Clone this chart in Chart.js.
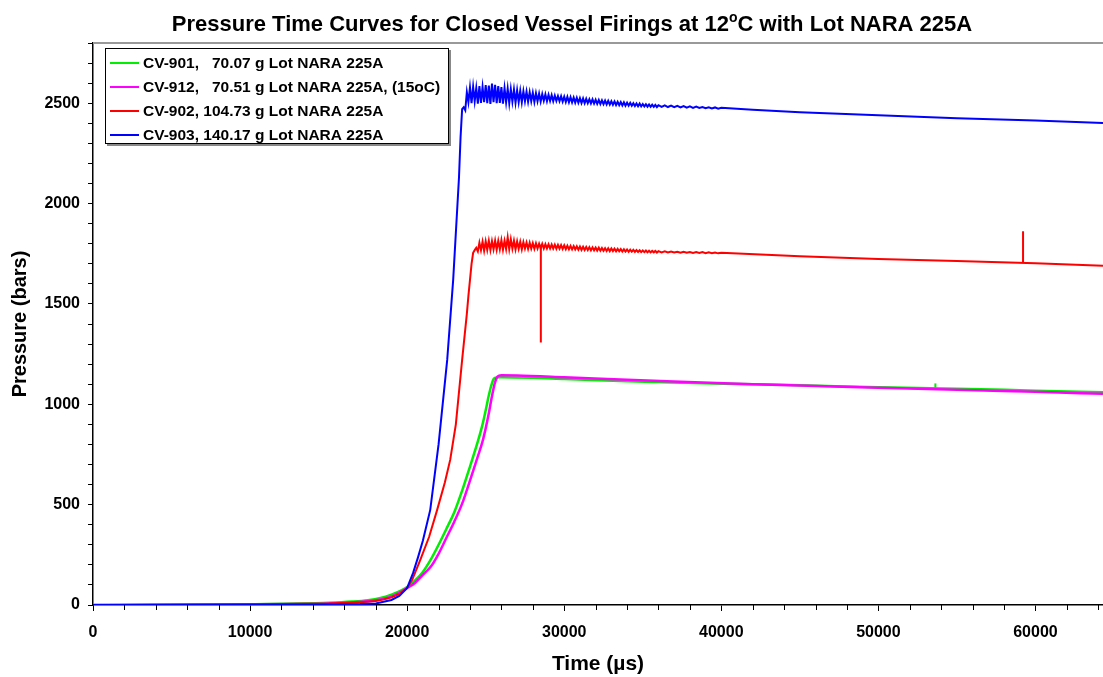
<!DOCTYPE html>
<html>
<head>
<meta charset="utf-8">
<script src="https://cdn.jsdelivr.net/npm/chart.js@4.4.1/dist/chart.umd.min.js"></script>
<style>
html, body { margin: 0; padding: 0; background: #fff; }
#wrap { width: 1103px; height: 677px; }
</style>
</head>
<body>
<div id="wrap"><canvas id="pressureChart" width="1103" height="677"></canvas></div>
<script>
// series names, as in the legend
var seriesNames = [
  'CV-901,   70.07 g Lot NARA 225A',
  'CV-912,   70.51 g Lot NARA 225A, (15oC)',
  'CV-902, 104.73 g Lot NARA 225A',
  'CV-903, 140.17 g Lot NARA 225A'
];

// CV-901 (green)
var greenT = [0, 5000, 10000, 13000, 15000, 16500, 17500, 18300, 19000, 19500, 20000, 20500, 21000, 21500, 22000, 22500, 23000, 23500, 24000, 24500, 24800, 25000, 25200, 25400, 25500, 25600, 25800, 26000, 28000, 30000, 34000, 37400, 42000, 45000, 50000, 55000, 60000, 64300];
var greenP = [0, 1, 4, 7, 11, 17, 24, 35, 52, 68, 90, 122, 165, 226, 300, 380, 462, 570, 690, 815, 900, 970, 1045, 1105, 1125, 1132, 1135, 1135, 1132, 1126, 1115, 1107, 1100, 1095, 1085, 1078, 1068, 1060];

// CV-912 (magenta)
var magentaT = [0, 5000, 10000, 13000, 15000, 16500, 17500, 18300, 19000, 19500, 20000, 20500, 21000, 21500, 22000, 22500, 23000, 23500, 24000, 24500, 24800, 25000, 25200, 25400, 25600, 25750, 26000, 27000, 30000, 34000, 37400, 42000, 45000, 50000, 55000, 60000, 64300];
var magentaP = [0, 1, 3, 5, 8, 13, 19, 27, 42, 60, 85, 110, 150, 190, 255, 335, 415, 505, 620, 740, 815, 880, 955, 1040, 1110, 1138, 1145, 1144, 1135, 1122, 1112, 1100, 1093, 1083, 1072, 1062, 1052];

// sample times of the ringing part, shared by CV-902 and CV-903
var ringT = [23800, 23900, 24000, 24100, 24200, 24300, 24400, 24500, 24600, 24700, 24800, 24900, 25000, 25100, 25200, 25300, 25400, 25500, 25600, 25700, 25800,
  25900, 26000, 26100, 26200, 26300, 26400, 26500, 26600, 26700, 26800, 26900, 27000, 27100, 27200, 27300, 27400, 27500, 27600, 27700, 27800, 27900, 28000,
  28100, 28200, 28300, 28400, 28500, 28600, 28700, 28800, 28900, 29000, 29100, 29200, 29300, 29400, 29500, 29600, 29700, 29800, 29900, 30000,
  30100, 30200, 30300, 30400, 30500, 30600, 30700, 30800, 30900, 31000, 31100, 31200, 31300, 31400, 31500, 31600, 31700, 31800, 31900, 32000,
  32100, 32200, 32300, 32400, 32500, 32600, 32700, 32800, 32900, 33000, 33100, 33200, 33300, 33400, 33500, 33600, 33700, 33800, 33900, 34000,
  34100, 34200, 34300, 34400, 34500, 34600, 34700, 34800, 34900, 35000, 35100, 35200, 35300, 35400, 35500, 35600, 35700, 35800, 35900, 36000,
  36200, 36400, 36600, 36800, 37000, 37200, 37400, 37600, 37800, 38000, 38200, 38400, 38600, 38800, 39000, 39200, 39400, 39600, 39800, 40000];

// CV-902 (red)
var redRiseT = [0, 8000, 12000, 15000, 17000, 18000, 18500, 19000, 19500, 20000, 20320, 20830, 21400, 21910, 22400, 22740, 23100, 23500];
var redRiseP = [0, 2, 5, 8, 14, 20, 28, 38, 55, 85, 125, 224, 340, 474, 610, 723, 900, 1221];
var redRing = [1450, 1540, 1620, 1700, 1755, 1768, 1780, 1762, 1805, 1768, 1810, 1765, 1812, 1770, 1815, 1768, 1813, 1772, 1816, 1770, 1814,
  1772, 1818, 1770, 1815, 1774, 1832, 1773, 1822, 1775, 1815, 1772, 1812, 1775, 1810, 1772, 1808, 1776, 1806, 1774, 1805, 1776, 1803,
  1775, 1802, 1776, 1800, 1777, 1799, 1776, 1798, 1777, 1797, 1776, 1796, 1776, 1795, 1775, 1794, 1775, 1793, 1774, 1792,
  1773, 1790, 1772, 1789, 1772, 1788, 1771, 1787, 1770, 1786, 1769, 1785, 1769, 1784, 1768, 1783, 1767, 1782, 1767, 1781,
  1766, 1780, 1765, 1779, 1765, 1778, 1764, 1777, 1763, 1776, 1763, 1775, 1762, 1774, 1762, 1773, 1761, 1772, 1761, 1771,
  1760, 1770, 1760, 1769, 1759, 1768, 1759, 1767, 1758, 1766, 1758, 1766, 1757, 1765, 1757, 1764, 1757, 1764, 1756, 1763,
  1757, 1762, 1756, 1761, 1756, 1760, 1755, 1760, 1755, 1759, 1754, 1758, 1754, 1758, 1753, 1757, 1753, 1756, 1752, 1755];
var redEndT = [45000, 50000, 55000, 60000, 64300];
var redEndP = [1737, 1724, 1714, 1703, 1690];

// CV-903 (blue)
var blueRiseT = [0, 10000, 15000, 17000, 18000, 19000, 19500, 20000, 20380, 20700, 21000, 21470, 22000, 22550, 22930, 23300, 23400, 23500, 23600, 23700];
var blueRiseP = [0, 1, 3, 5, 8, 25, 45, 85, 160, 240, 320, 474, 800, 1221, 1620, 2130, 2330, 2470, 2480, 2465];
var blueRing = [2555, 2505, 2578, 2500, 2582, 2510, 2575, 2498, 2585, 2502, 2580, 2505, 2590, 2500, 2588, 2496, 2598, 2505, 2592, 2500, 2585,
  2502, 2580, 2498, 2575, 2505, 2572, 2500, 2570, 2508, 2568, 2503, 2565, 2506, 2562, 2505, 2560, 2510, 2558, 2508, 2555, 2510, 2552,
  2506, 2550, 2510, 2548, 2508, 2545, 2512, 2544, 2510, 2542, 2512, 2540, 2510, 2538, 2512, 2536, 2510, 2535, 2508, 2533,
  2506, 2532, 2505, 2530, 2504, 2528, 2503, 2527, 2502, 2525, 2501, 2524, 2500, 2522, 2500, 2520, 2499, 2519, 2498, 2517,
  2497, 2516, 2496, 2514, 2495, 2513, 2494, 2512, 2493, 2510, 2492, 2509, 2491, 2507, 2490, 2506, 2489, 2505, 2488, 2503,
  2488, 2502, 2487, 2500, 2486, 2499, 2485, 2498, 2484, 2496, 2484, 2495, 2483, 2494, 2482, 2493, 2482, 2492, 2481, 2490,
  2482, 2489, 2481, 2488, 2480, 2487, 2479, 2486, 2478, 2484, 2477, 2483, 2476, 2481, 2475, 2480, 2474, 2479, 2473, 2477];
var blueEndT = [42000, 45000, 50000, 55000, 60000, 64300];
var blueEndP = [2468, 2455, 2440, 2425, 2414, 2402];

// single-sample glitches (vertical spikes)
var redSpike1T = [28510, 28510], redSpike1P = [1795, 1308];
var redSpike2T = [59210, 59210], redSpike2P = [1706, 1862];
var greenSpikeT = [53630, 53630], greenSpikeP = [1080, 1104];

// axis ticks
var xTickLabels = [0, 10000, 20000, 30000, 40000, 50000, 60000];
var xMinorTicks = [2000, 4000, 6000, 8000, 12000, 14000, 16000, 18000, 22000, 24000, 26000, 28000, 32000, 34000, 36000, 38000,
  42000, 44000, 46000, 48000, 52000, 54000, 56000, 58000, 62000, 64000];
var yTickLabels = [0, 500, 1000, 1500, 2000, 2500];

function pairs(t, p) {
  return t.map(function (v, i) { return { x: v, y: p[i] }; });
}

var colors = ['#00ee00', '#ff00ff', '#ff0000', '#0000ff'];

var mainData = [
  pairs(greenT, greenP),
  pairs(magentaT, magentaP),
  pairs(redRiseT.concat(ringT, redEndT), redRiseP.concat(redRing, redEndP)),
  pairs(blueRiseT.concat(ringT, blueEndT), blueRiseP.concat(blueRing, blueEndP))
];
var widths = [2.5, 2.5, 2, 2];

var datasets = mainData.map(function (d, i) {
  return {
    label: seriesNames[i],
    data: d,
    borderColor: colors[i],
    backgroundColor: colors[i],
    borderWidth: widths[i],
    pointRadius: 0,
    tension: 0,
    cubicInterpolationMode: i < 2 ? 'monotone' : 'default',
    fill: false,
    order: 4 - i
  };
});

function spike(t, p, color, order) {
  return { label: '', data: pairs(t, p), borderColor: color, borderWidth: 2, pointRadius: 0, fill: false, order: order, spike: true };
}
datasets.push(spike(greenSpikeT, greenSpikeP, colors[0], 4));
datasets.push(spike(redSpike1T, redSpike1P, colors[2], 2));
datasets.push(spike(redSpike2T, redSpike2P, colors[2], 2));

var FONT = '"Liberation Sans", Arial, sans-serif';

var decor = {
  id: 'decor',
  afterDraw: function (chart) {
    var ctx = chart.ctx, a = chart.chartArea, xs = chart.scales.x;
    ctx.save();
    // grey top frame line
    ctx.strokeStyle = '#999';
    ctx.lineWidth = 2;
    ctx.beginPath();
    ctx.moveTo(a.left, a.top);
    ctx.lineTo(1103, a.top);
    ctx.stroke();

    // minor ticks on the time axis
    ctx.strokeStyle = '#000';
    ctx.lineWidth = 1;
    ctx.beginPath();
    xMinorTicks.forEach(function (v) {
      var px = Math.round(xs.getPixelForValue(v)) + 0.5;
      ctx.moveTo(px, a.bottom);
      ctx.lineTo(px, a.bottom + 5);
    });
    ctx.stroke();

    // title with superscript o
    var t1 = 'Pressure Time Curves for Closed Vessel Firings at 12';
    var t2 = 'o';
    var t3 = 'C with Lot NARA 225A';
    ctx.fillStyle = '#000';
    ctx.textBaseline = 'alphabetic';
    ctx.font = 'bold 22px ' + FONT;
    var w1 = ctx.measureText(t1).width, w3 = ctx.measureText(t3).width;
    ctx.font = 'bold 14px ' + FONT;
    var w2 = ctx.measureText(t2).width;
    var x0 = 572 - (w1 + w2 + w3) / 2, base = 31;
    ctx.font = 'bold 22px ' + FONT;
    ctx.fillText(t1, x0, base);
    ctx.font = 'bold 14px ' + FONT;
    ctx.fillText(t2, x0 + w1, base - 9);
    ctx.font = 'bold 22px ' + FONT;
    ctx.fillText(t3, x0 + w1 + w2, base);

    // legend box
    var lx = 105, ly = 48, lw = 344, lh = 96;
    ctx.fillStyle = '#888';
    ctx.fillRect(lx + 2, ly + 2, lw, lh);
    ctx.fillStyle = '#fff';
    ctx.fillRect(lx, ly, lw, lh);
    ctx.strokeStyle = '#000';
    ctx.lineWidth = 1;
    ctx.strokeRect(lx + 0.5, ly + 0.5, lw - 1, lh - 1);
    ctx.font = 'bold 15.5px ' + FONT;
    ctx.textBaseline = 'middle';
    chart.data.datasets.forEach(function (ds, i) {
      if (ds.spike) return;
      var y = 63 + i * 24;
      ctx.strokeStyle = ds.borderColor;
      ctx.lineWidth = 2;
      ctx.beginPath();
      ctx.moveTo(110, y);
      ctx.lineTo(139, y);
      ctx.stroke();
      ctx.fillStyle = '#000';
      ctx.fillText(ds.label, 143, y + 1);
    });
    ctx.restore();
  }
};

new Chart(document.getElementById('pressureChart'), {
  type: 'line',
  data: { datasets: datasets },
  plugins: [decor],
  options: {
    responsive: false,
    animation: false,
    layout: { padding: { top: 43, right: 0, left: 0, bottom: 0 } },
    plugins: {
      legend: { display: false },
      title: { display: false },
      tooltip: { enabled: false }
    },
    scales: {
      x: {
        type: 'linear',
        min: 0,
        max: 64300,
        afterFit: function (s) { s.height = 72; s.paddingLeft = 0; s.paddingRight = 0; },
        afterBuildTicks: function (s) {
          s.ticks = xTickLabels.map(function (v) { return { value: v }; });
        },
        border: { display: true, color: '#000', width: 1.5 },
        grid: { drawOnChartArea: false, drawTicks: true, tickLength: 6, tickColor: '#000', tickWidth: 1 },
        ticks: {
          autoSkip: false,
          maxRotation: 0,
          padding: 12,
          color: '#000',
          font: { family: FONT, size: 16, weight: 'bold' },
          callback: function (v) { return String(Math.round(v)); }
        },
        title: {
          display: true,
          text: 'Time (\u00b5s)',
          color: '#000',
          font: { family: FONT, size: 21, weight: 'bold' },
          padding: { top: 0, bottom: 0 }
        }
      },
      y: {
        min: 0,
        max: 2800,
        afterFit: function (s) { s.width = 93; },
        border: { display: true, color: '#000', width: 1.5 },
        grid: { drawOnChartArea: false, drawTicks: true, tickLength: 5, tickColor: '#000', tickWidth: 1 },
        ticks: {
          stepSize: 100,
          autoSkip: false,
          padding: 8,
          color: '#000',
          font: { family: FONT, size: 16, weight: 'bold' },
          callback: function (v) {
            var r = Math.round(v);
            return yTickLabels.indexOf(r) >= 0 ? String(r) : '';
          }
        },
        title: {
          display: true,
          text: 'Pressure (bars)',
          color: '#000',
          font: { family: FONT, size: 20, weight: 'bold' },
          padding: { top: 8, bottom: 0 }
        }
      }
    }
  }
});
</script>
</body>
</html>
